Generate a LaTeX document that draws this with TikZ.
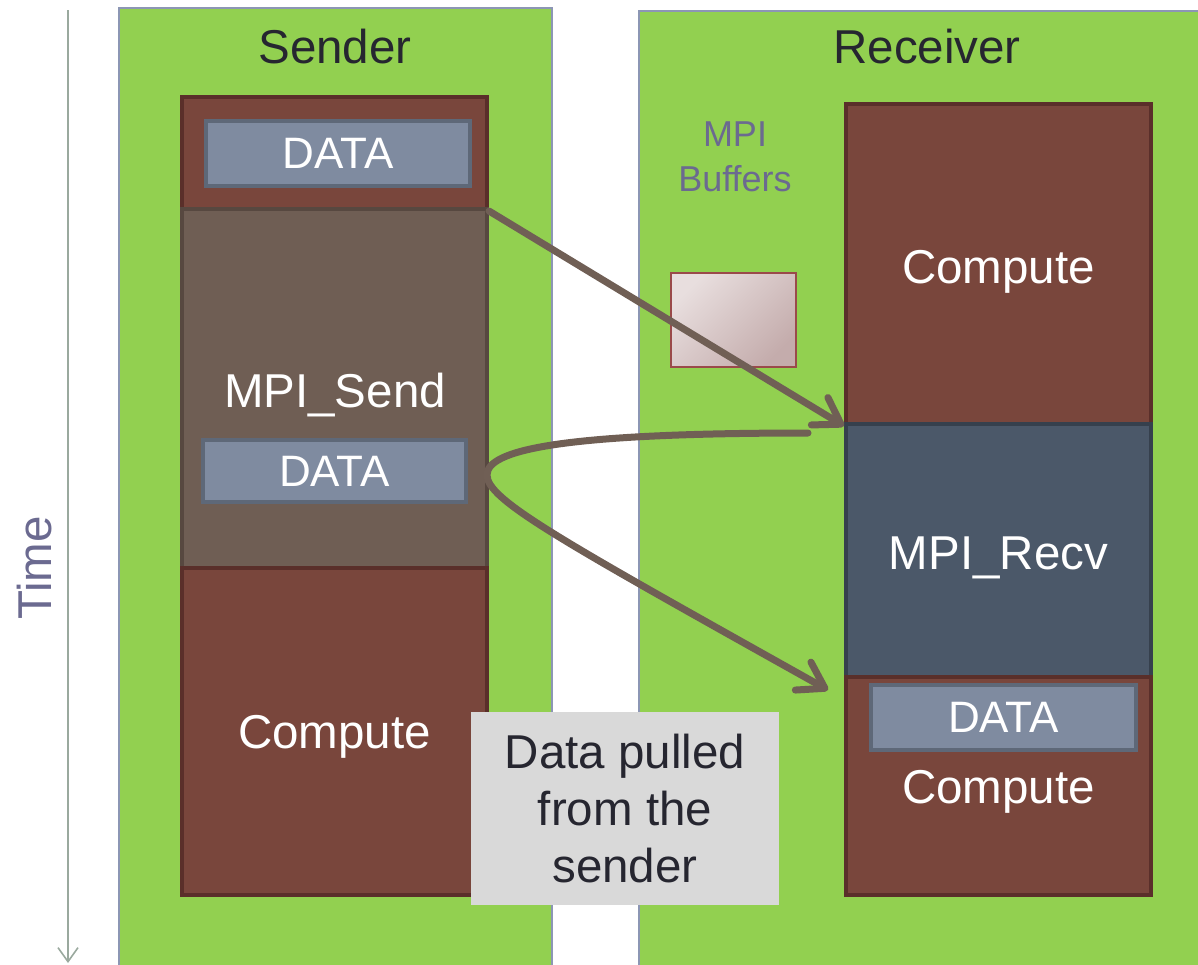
\documentclass[tikz,border=0pt]{standalone}
\usepackage{fontspec}
\setmainfont{Liberation Sans}
\usetikzlibrary{arrows.meta}
\definecolor{panelgreen}{HTML}{92D050}
\definecolor{panelline}{HTML}{8C96B4}
\definecolor{brownfill}{HTML}{79463C}
\definecolor{brownline}{HTML}{5A2F2A}
\definecolor{sendfill}{HTML}{6F5E54}
\definecolor{sendline}{HTML}{574840}
\definecolor{recvfill}{HTML}{4B5869}
\definecolor{recvline}{HTML}{36404D}
\definecolor{datafill}{HTML}{7F8BA0}
\definecolor{dataline}{HTML}{5E6878}
\definecolor{arrowcol}{HTML}{705F55}
\definecolor{axiscol}{HTML}{9AA99E}
\definecolor{labeltext}{HTML}{6B6A90}
\definecolor{darktext}{HTML}{262630}
\definecolor{notefill}{HTML}{D9D9D9}
\definecolor{buflight}{HTML}{E8DEDE}
\definecolor{bufdark}{HTML}{C4ACAC}
\definecolor{bufline}{HTML}{9A4A4A}
\begin{document}
\begin{tikzpicture}[x=0.5pt,y=-0.5pt,
  bigfont/.style={font=\fontsize{23.75}{28.5}\selectfont},
  panel/.style={draw=panelline, line width=0.75pt, fill=panelgreen, inner sep=0pt, anchor=north west},
  title/.style={bigfont, text=darktext},
  blk/.style={rectangle, inner sep=0pt, minimum width=152.5pt, line width=2pt},
  brownblk/.style={blk, fill=brownfill, draw=brownline},
  sendblk/.style={blk, fill=sendfill, draw=sendline},
  recvblk/.style={blk, fill=recvfill, draw=recvline},
  blktext/.style={bigfont, text=white, anchor=base, inner sep=0pt},
  databox/.style={rectangle, inner sep=0pt, fill=datafill, draw=dataline, line width=2.2pt, text=white,
    font=\fontsize{22}{26}\selectfont},
  flow/.style={draw=arrowcol, line width=3.5pt, line cap=round, -{Straight Barb[round,length=12.5pt,width=16pt]}},
]
\useasboundingbox (0,0) rectangle (1198,964);

% time axis
\coordinate (t0) at (68,10);
\coordinate (t1) at (68,963);
\draw[draw=axiscol, line width=0.8pt, -{Straight Barb[length=7pt,width=10pt]}] (t0) -- (t1);
\node[rotate=90, bigfont, text=labeltext] (time) at (35,568) {Time};

% panels
\node[panel, minimum width=216.5pt, minimum height=482pt] (spanel) at (118,7) {};
\node[panel, minimum width=282pt, minimum height=480pt] (rpanel) at (638,10) {};
\node[title] (stitle) at (335,47) {Sender};
\node[title] (rtitle) at (927,47) {Receiver};

% sender column
\node[brownblk, minimum height=56pt] (stop) at (334.5,153) {};
\node[sendblk, minimum height=179.5pt] (ssend) at (334.5,388.5) {};
\node[brownblk, minimum height=163.5pt] (scomp) at (334.5,731.5) {};
\node[blktext] (ssendtxt) at (335,407) {MPI\_Send};
\node[blktext] (scomptxt) at (334.5,748) {Compute};
\node[databox, minimum width=132pt, minimum height=32.5pt] (sdata1) at (338,153.5) {DATA};
\node[databox, minimum width=131.5pt, minimum height=31pt] (sdata2) at (334.5,471) {DATA};

% receiver column
\node[brownblk, minimum height=160pt] (rcomp1) at (998.5,264) {};
\node[recvblk, minimum height=126.5pt] (rrecv) at (998.5,550.5) {};
\node[brownblk, minimum height=109pt] (rcomp2) at (998.5,786) {};
\node[blktext] (rcomp1txt) at (998.5,283) {Compute};
\node[blktext] (rrecvtxt) at (998.5,569) {MPI\_Recv};
\node[databox, minimum width=132.5pt, minimum height=32.5pt] (rdata) at (1003.5,717.5) {DATA};
\node[blktext] (rcomp2txt) at (998.5,803) {Compute};

% MPI buffers
\node[align=center, text=labeltext, font=\fontsize{18}{22.5}\selectfont] (buftxt) at (735,157) {MPI\\Buffers};
\node[rectangle, inner sep=0pt, minimum width=62.5pt, minimum height=47pt, draw=bufline, line width=0.6pt,
  top color=buflight, bottom color=bufdark, shading angle=45] (buf) at (733.5,320) {};

% arrows
\draw[flow] (stop.south east) -- (rcomp1.south west);
\coordinate (c2s) at (808,433);
\coordinate (c2m) at (487,475);
\coordinate (c2e) at (828,690);
\draw[flow] (c2s) .. controls (560,433) and (487,450) .. (c2m)
  .. controls (487,500) and (560,540) .. (c2e);

% note
\node[rectangle, inner sep=0pt, fill=notefill, minimum width=154pt, minimum height=96.5pt,
  align=center, bigfont, text=darktext] (note) at (625,808.5) {Data pulled\\from the\\sender};
\end{tikzpicture}
\end{document}
